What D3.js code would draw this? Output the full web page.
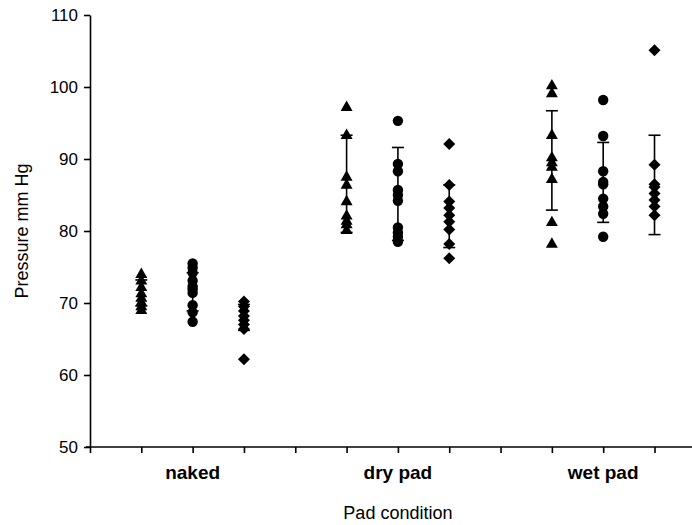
<!DOCTYPE html>
<html>
<head>
<meta charset="utf-8">
<script src="https://cdn.jsdelivr.net/npm/d3@7"></script>
<style>
  body { margin: 0; background: #fff; }
  svg text { font-family: "Liberation Sans", Arial, sans-serif; fill: #000; }
</style>
</head>
<body>
<svg id="chart" width="692" height="525"></svg>
<script>
// categories and where they sit on the x scale
var categories = ['naked', 'dry pad', 'wet pad'];
var categoryPos = [2, 6, 10];

// each group of readings: x position, marker shape, values
var nakedTri = [74.1, 73.2, 72.3, 71.4, 70.8, 70.2, 69.6, 69.1];
var nakedCirc = [75.5, 74.9, 74.2, 73.1, 72.3, 71.9, 71.4, 69.7, 68.7, 67.4];
var nakedDiam = [70.2, 69.5, 68.9, 68.2, 67.6, 67, 66.4, 62.2];
var dryTri = [97.3, 93.4, 87.6, 86.5, 84.2, 82.2, 81.5, 81, 80.2];
var dryCirc = [95.3, 89.3, 88.3, 85.7, 85, 84.2, 80.5, 79.8, 79.2, 78.5];
var dryDiam = [92.1, 86.4, 84.1, 83.2, 82.2, 81.3, 80.2, 78.2, 76.2];
var wetTri = [100.3, 99.2, 93.4, 90.3, 89.6, 89, 87.3, 81.3, 78.3];
var wetCirc = [98.2, 93.2, 88.3, 86.8, 86.5, 84.5, 83.4, 82.4, 79.2];
var wetDiam = [105.1, 89.2, 86.5, 86.1, 85.2, 84.3, 83.4, 82.2];

var groupX = [1, 2, 3, 5, 6, 7, 9, 10, 11];
var groupShape = ['tri', 'circ', 'diam', 'tri', 'circ', 'diam', 'tri', 'circ', 'diam'];
var groupValues = [nakedTri, nakedCirc, nakedDiam, dryTri, dryCirc, dryDiam, wetTri, wetCirc, wetDiam];
// error bar ends (mean +/- SD)
var errLow = [69.6, 68.9, 66.2, 79.8, 78.7, 77.7, 82.9, 81.2, 79.5];
var errHigh = [73.2, 74.2, 69.8, 93.3, 91.6, 86.4, 96.7, 92.3, 93.3];

var yTicks = [50, 60, 70, 80, 90, 100, 110];
var xTicks = d3.range(0, 12);

var svg = d3.select('#chart');

var x = d3.scaleLinear().domain([0, 11.75]).range([90, 693]);
var y = d3.scaleLinear().domain([50, 110]).range([447, 15]);

// y axis
var yAxis = d3.axisLeft(y).tickValues(yTicks).tickSizeInner(6).tickSizeOuter(0).tickPadding(6);
var gy = svg.append('g').attr('transform', 'translate(' + x(0) + ',0)').call(yAxis);
gy.selectAll('text').style('font-size', '17px');

// x axis, no numbers shown
var xAxis = d3.axisBottom(x).tickValues(xTicks).tickSizeInner(6).tickSizeOuter(0).tickFormat('');
var gx = svg.append('g').attr('transform', 'translate(0,' + y(50) + ')').call(xAxis);
gx.select('.domain').attr('d', 'M' + (x(0) - 4) + ',0H693');

svg.selectAll('.domain, .tick line').attr('stroke', '#000').attr('stroke-width', 1.6);

// category labels
svg.selectAll('.cat')
   .data(categories)
   .enter()
   .append('text')
   .attr('class', 'cat')
   .attr('x', function(d, i) { return x(categoryPos[i]); })
   .attr('y', 479)
   .attr('text-anchor', 'middle')
   .style('font-size', '19px')
   .style('font-weight', 'bold')
   .text(function(d) { return d; });

// axis titles
svg.append('text')
   .attr('x', x(6))
   .attr('y', 519)
   .attr('text-anchor', 'middle')
   .style('font-size', '18px')
   .text('Pad condition');

svg.append('text')
   .attr('transform', 'translate(28,' + y(80) + ') rotate(-90)')
   .attr('text-anchor', 'middle')
   .style('font-size', '18px')
   .text('Pressure mm Hg');

// error bars
var capW = 6;
var bars = svg.append('g');
groupX.forEach(function(gxv, i) {
  var cx = x(gxv);
  bars.append('line').attr('x1', cx).attr('x2', cx)
      .attr('y1', y(errLow[i])).attr('y2', y(errHigh[i]))
      .attr('stroke', '#000').attr('stroke-width', 1.6);
  [errLow[i], errHigh[i]].forEach(function(v) {
    bars.append('line').attr('x1', cx - capW).attr('x2', cx + capW)
        .attr('y1', y(v)).attr('y2', y(v))
        .attr('stroke', '#000').attr('stroke-width', 1.6);
  });
});

// markers
var shapes = {
  tri: d3.symbol().type(d3.symbolTriangle).size(62),
  circ: d3.symbol().type(d3.symbolCircle).size(85),
  diam: d3.symbol().type(d3.symbolSquare).size(72)
};
var pts = [];
groupValues.forEach(function(vals, i) {
  vals.forEach(function(v) { pts.push({ x: groupX[i], v: v, s: groupShape[i] }); });
});

svg.append('g').selectAll('path')
   .data(pts)
   .enter()
   .append('path')
   .attr('d', function(d) { return shapes[d.s](); })
   .attr('transform', function(d) {
     var t = 'translate(' + x(d.x) + ',' + y(d.v) + ')';
     if (d.s === 'tri') t += ' translate(0,1)';
     if (d.s === 'diam') t += ' rotate(45)';
     return t;
   })
   .attr('fill', '#000');
</script>
</body>
</html>
